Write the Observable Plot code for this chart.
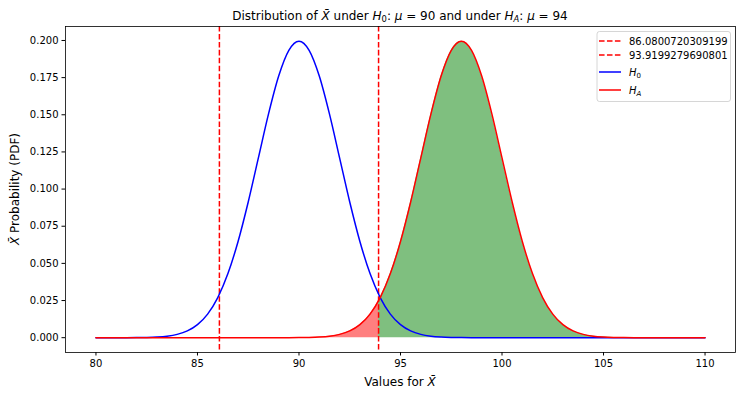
<!DOCTYPE html>
<html>
<head>
<meta charset="utf-8">
<script src="https://cdn.jsdelivr.net/npm/d3@7"></script>
<script src="https://cdn.jsdelivr.net/npm/@observablehq/plot@0.6"></script>
<style>
  html, body { margin: 0; padding: 0; background: #fff; }
  #chart { width: 742px; height: 396px; }
  svg { font-family: "DejaVu Sans", sans-serif; }
</style>
</head>
<body>
<div id="chart"></div>
<script>
// Grid of x values (sample mean)
const xValues = [80, 80.5, 81, 81.5, 82, 82.5, 83, 83.5, 84, 84.5, 85, 85.5, 86, 86.5, 87, 87.5, 88, 88.5, 89, 89.5,
  90, 90.5, 91, 91.5, 92, 92.5, 93, 93.5, 94, 94.5, 95, 95.5, 96, 96.5, 97, 97.5, 98, 98.5, 99, 99.5,
  100, 100.5, 101, 101.5, 102, 102.5, 103, 103.5, 104, 104.5, 105, 105.5, 106, 106.5, 107, 107.5, 108, 108.5, 109, 109.5, 110];

// PDF under H0 (blue)
const h0Values = [0, 0, 0.00001, 0.00002, 0.00007, 0.00018, 0.00044, 0.00101, 0.00222, 0.00455,
  0.00876, 0.01587, 0.02700, 0.04314, 0.06476, 0.09132, 0.12099, 0.15057, 0.17603, 0.19333,
  0.19947, 0.19333, 0.17603, 0.15057, 0.12099, 0.09132, 0.06476, 0.04314, 0.02700, 0.01587,
  0.00876, 0.00455, 0.00222, 0.00101, 0.00044, 0.00018, 0.00007, 0.00002, 0.00001, 0,
  0, 0, 0, 0, 0, 0, 0, 0, 0, 0, 0, 0, 0, 0, 0, 0, 0, 0, 0, 0, 0];

// PDF under HA (red)
const haValues = [0, 0, 0, 0, 0, 0, 0, 0, 0, 0, 0, 0, 0, 0, 0, 0, 0, 0,
  0.00001, 0.00002, 0.00007, 0.00018, 0.00044, 0.00101, 0.00222, 0.00455, 0.00876, 0.01587,
  0.02700, 0.04314, 0.06476, 0.09132, 0.12099, 0.15057, 0.17603, 0.19333, 0.19947, 0.19333,
  0.17603, 0.15057, 0.12099, 0.09132, 0.06476, 0.04314, 0.02700, 0.01587, 0.00876, 0.00455,
  0.00222, 0.00101, 0.00044, 0.00018, 0.00007, 0.00002, 0.00001, 0, 0, 0, 0, 0, 0];

// Critical values and HA density at the upper critical value
const critValues = [86.0800720309199, 93.9199279690801];
const critLabels = ["86.0800720309199", "93.9199279690801"];
const haAtUpperCrit = 0.0249;

const xTicks = [80, 85, 90, 95, 100, 105, 110];
const yTicks = [0, 0.025, 0.05, 0.075, 0.1, 0.125, 0.15, 0.175, 0.2];

const h0Data = xValues.map((x, i) => ({x, y: h0Values[i]}));
const haData = xValues.map((x, i) => ({x, y: haValues[i]}));
const upper = critValues[1];
const boundary = {x: upper, y: haAtUpperCrit};
const redArea = haData.filter(d => d.x <= upper).concat([boundary]);
const greenArea = [boundary].concat(haData.filter(d => d.x >= upper));

const W = 742, H = 396;
const mL = 65, mR = 7, mT = 26, mB = 44;

const chart = Plot.plot({
  width: W,
  height: H,
  marginLeft: mL,
  marginRight: mR,
  marginTop: mT,
  marginBottom: mB,
  style: {fontFamily: "DejaVu Sans, sans-serif", fontSize: "10px", color: "black", background: "white"},
  x: {domain: [78.5, 111.5]},
  y: {domain: [-0.00997, 0.2094]},
  marks: [
    Plot.areaY(redArea, {x: "x", y: "y", fill: "red", fillOpacity: 0.5, curve: "monotone-x"}),
    Plot.areaY(greenArea, {x: "x", y: "y", fill: "green", fillOpacity: 0.5, curve: "monotone-x"}),
    Plot.ruleX(critValues, {x: d => d, stroke: "red", strokeWidth: 1.5, strokeDasharray: "5.55,2.4"}),
    Plot.line(h0Data, {x: "x", y: "y", stroke: "blue", strokeWidth: 1.5, curve: "monotone-x"}),
    Plot.line(haData, {x: "x", y: "y", stroke: "red", strokeWidth: 1.5, curve: "monotone-x"}),
    Plot.axisX({ticks: xTicks, tickSize: 3.5, tickPadding: 3.5, label: null, fontSize: 10, tickFormat: d3.format("d")}),
    Plot.axisY({ticks: yTicks, tickSize: 3.5, tickPadding: 3.5, label: null, fontSize: 10, tickFormat: d3.format(".3f")}),
    Plot.frame({stroke: "black", strokeWidth: 0.8})
  ]
});

document.getElementById("chart").appendChild(chart);
const svg = d3.select(chart);
const cx = mL + (W - mL - mR) / 2;

// Text with italic / subscript pieces
function addMathText(parent, parts, attrs) {
  const t = parent.append("text");
  for (const k in attrs) t.attr(k, attrs[k]);
  for (const p of parts) {
    const s = t.append("tspan").text(p.t);
    if (p.i) s.attr("font-style", "italic");
    if (p.sub) s.attr("baseline-shift", "-25%").attr("font-size", "0.7em");
  }
  return t;
}

addMathText(svg, [
  {t: "Distribution of "}, {t: "X\u0304", i: true}, {t: " under "}, {t: "H", i: true}, {t: "0", sub: true},
  {t: ": "}, {t: "\u03bc", i: true}, {t: " = 90 and under "}, {t: "H", i: true}, {t: "A", sub: true, i: true},
  {t: ": "}, {t: "\u03bc", i: true}, {t: " = 94"}
], {x: cx, y: 20, "text-anchor": "middle", "font-size": 12, fill: "black"});

addMathText(svg, [{t: "Values for "}, {t: "X\u0304", i: true}],
  {x: cx, y: 386, "text-anchor": "middle", "font-size": 12, fill: "black"});

addMathText(svg, [{t: "X\u0304", i: true}, {t: " Probability (PDF)"}],
  {transform: `translate(19,${mT + (H - mT - mB) / 2}) rotate(-90)`, "text-anchor": "middle", "font-size": 12, fill: "black"});

// Legend
const lg = svg.append("g").attr("text-anchor", "start");
lg.append("rect").attr("x", 597).attr("y", 31.5).attr("width", 133.5).attr("height", 70)
  .attr("rx", 2.5).attr("ry", 2.5).style("fill", "white").style("fill-opacity", 0.8)
  .style("stroke", "#cccccc").style("stroke-width", "0.8px");
const entries = [
  {label: [{t: critLabels[0]}], color: "red", dash: "5.55,2.4", y: 41},
  {label: [{t: critLabels[1]}], color: "red", dash: "5.55,2.4", y: 55},
  {label: [{t: "H", i: true}, {t: "0", sub: true}], color: "blue", dash: null, y: 72},
  {label: [{t: "H", i: true}, {t: "A", sub: true, i: true}], color: "red", dash: null, y: 90}
];
for (const e of entries) {
  const ln = lg.append("line").attr("x1", 599).attr("x2", 621).attr("y1", e.y).attr("y2", e.y)
    .style("stroke", e.color).style("stroke-width", "1.5px");
  if (e.dash) ln.style("stroke-dasharray", e.dash);
  addMathText(lg, e.label, {x: 629, y: e.y + 3.5, "text-anchor": "start", "font-size": 10, fill: "black"});
}
</script>
</body>
</html>
